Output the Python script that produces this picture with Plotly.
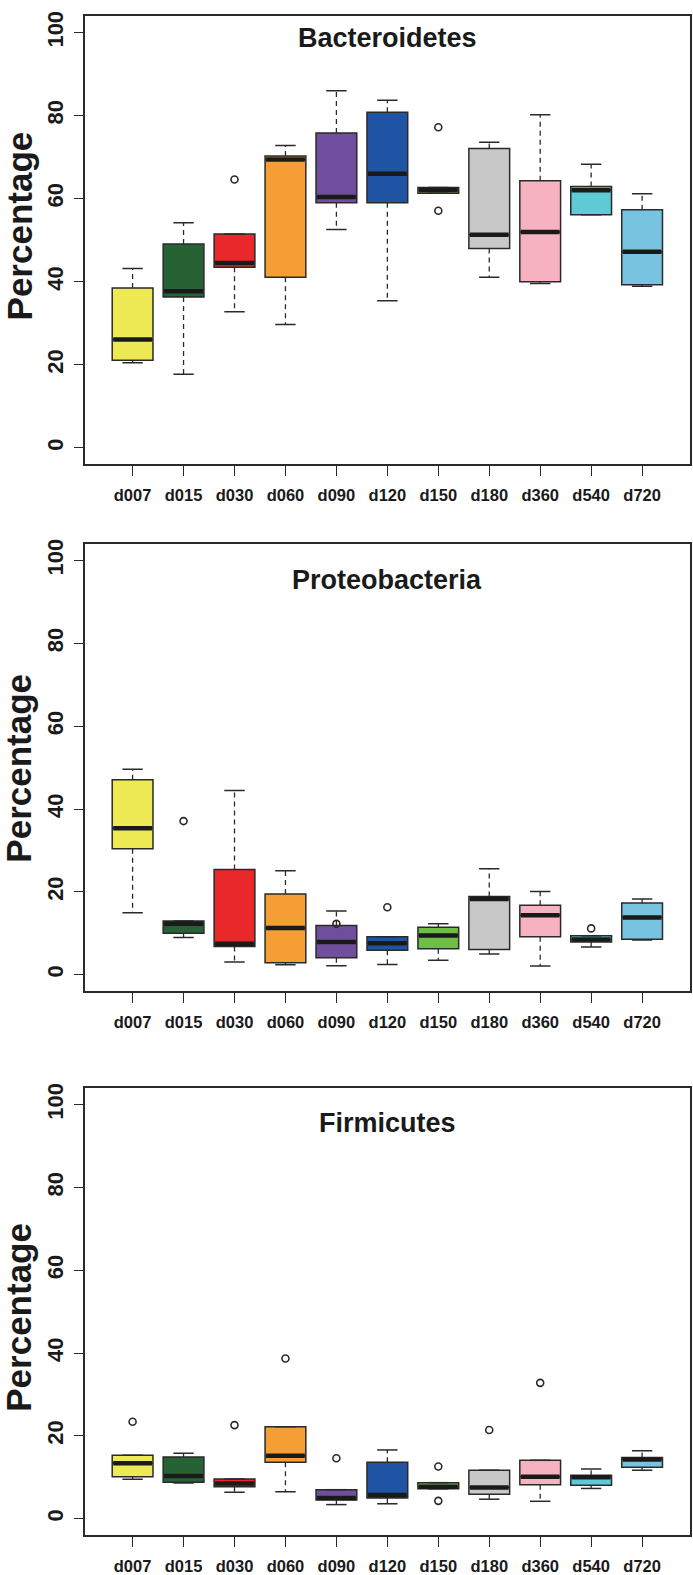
import plotly.graph_objects as go

# ---------------- data ----------------
categories = ["d007", "d015", "d030", "d060", "d090", "d120", "d150", "d180", "d360", "d540", "d720"]
box_colors = ["#EDEA55", "#266234", "#E9282A", "#F59E33", "#6F4F9E", "#1E54A3",
              "#6EBE46", "#C8C8C8", "#F6B2C1", "#5ECAD6", "#78C3E0"]
panel_titles = ["Bacteroidetes", "Proteobacteria", "Firmicutes"]
y_title = "Percentage"
y_ticks = [0, 20, 40, 60, 80, 100]

# Bacteroidetes
bact_lower = [20.5, 17.7, 32.8, 29.7, 52.6, 35.4, 61.3, 41.1, 39.6, 56.1, 38.9]
bact_q1 = [21.1, 36.3, 43.5, 41.1, 59.0, 59.0, 61.3, 48.0, 40.0, 56.1, 39.3]
bact_median = [26.1, 37.7, 44.5, 69.4, 60.4, 66.0, 62.1, 51.3, 52.0, 62.0, 47.2]
bact_q3 = [38.5, 49.1, 51.5, 70.3, 75.8, 80.8, 62.7, 72.1, 64.3, 62.9, 57.3]
bact_upper = [43.2, 54.2, 51.5, 72.8, 86.0, 83.7, 62.7, 73.6, 80.2, 68.3, 61.2]
bact_outliers = {"d030": [64.6], "d150": [77.2, 57.1]}

# Proteobacteria
prot_lower = [15.0, 9.0, 3.1, 2.4, 2.2, 2.5, 3.5, 5.0, 2.1, 6.7, 8.4]
prot_q1 = [30.4, 10.0, 6.8, 2.9, 4.1, 5.9, 6.3, 6.1, 9.2, 7.9, 8.6]
prot_median = [35.4, 12.3, 7.5, 11.3, 7.9, 7.6, 9.5, 18.3, 14.4, 8.5, 13.8]
prot_q3 = [47.1, 13.0, 25.4, 19.5, 11.9, 9.2, 11.5, 18.9, 16.8, 9.4, 17.3]
prot_upper = [49.6, 13.0, 44.5, 25.1, 15.4, 9.2, 12.3, 25.6, 20.1, 9.4, 18.3]
prot_outliers = {"d015": [37.1], "d090": [12.3], "d120": [16.3], "d540": [11.2]}

# Firmicutes
firm_lower = [9.5, 8.6, 6.4, 6.5, 3.4, 3.6, 7.2, 4.7, 4.2, 7.3, 11.7]
firm_q1 = [10.1, 8.8, 7.7, 13.6, 4.5, 5.0, 7.2, 5.9, 8.2, 8.1, 12.4]
firm_median = [13.4, 10.3, 8.5, 15.2, 5.0, 5.7, 7.7, 7.5, 10.1, 10.0, 14.3]
firm_q3 = [15.3, 14.9, 9.6, 22.2, 7.0, 13.6, 8.7, 11.7, 14.1, 10.5, 14.8]
firm_upper = [15.3, 15.8, 9.6, 22.2, 7.0, 16.6, 8.7, 11.7, 14.1, 12.0, 16.4]
firm_outliers = {"d007": [23.4], "d030": [22.6], "d060": [38.7], "d090": [14.6],
                 "d150": [12.6, 4.3], "d180": [21.4], "d360": [32.8]}

panels = [
    (bact_lower, bact_q1, bact_median, bact_q3, bact_upper, bact_outliers),
    (prot_lower, prot_q1, prot_median, prot_q3, prot_upper, prot_outliers),
    (firm_lower, firm_q1, firm_median, firm_q3, firm_upper, firm_outliers),
]

# ---------------- styling / layout ----------------
W, H = 693, 1575
DARK = "#2a2a2a"
FONT = "Liberation Sans, Arial, sans-serif"
BOXW = 0.8
STAPLE = BOXW / 2
x_dom = [84.7 / W, 690.0 / W]
frames = [(11.0, 462.7), (542.7, 993.3), (1090.7, 1541.0)]  # top, bottom px
title_y = [98.6, 95.4, 95.6]
ylab_center = [223, 769, 1322]

fig = go.Figure()
positions = list(range(1, len(categories) + 1))

for p, (lo, q1, med, q3, up, outs) in enumerate(panels):
    xa = "x" if p == 0 else f"x{p + 1}"
    ya = "y" if p == 0 else f"y{p + 1}"

    # dashed whiskers
    wx, wy = [], []
    for i, pos in enumerate(positions):
        wx += [pos, pos, None, pos, pos, None]
        wy += [q3[i], up[i], None, q1[i], lo[i], None]
    fig.add_trace(go.Scatter(x=wx, y=wy, mode="lines", xaxis=xa, yaxis=ya,
                             line=dict(color=DARK, width=1.3, dash="5px,4px"),
                             hoverinfo="skip", showlegend=False))
    # staples
    sx, sy = [], []
    for i, pos in enumerate(positions):
        for v in (up[i], lo[i]):
            sx += [pos - STAPLE / 2, pos + STAPLE / 2, None]
            sy += [v, v, None]
    fig.add_trace(go.Scatter(x=sx, y=sy, mode="lines", xaxis=xa, yaxis=ya,
                             line=dict(color=DARK, width=1.5),
                             hoverinfo="skip", showlegend=False))
    # boxes
    for i, pos in enumerate(positions):
        fig.add_trace(go.Box(x=[pos], q1=[q1[i]], median=[med[i]], q3=[q3[i]],
                             lowerfence=[q1[i]], upperfence=[q3[i]],
                             width=BOXW, whiskerwidth=0, boxpoints=False,
                             fillcolor=box_colors[i],
                             line=dict(color=DARK, width=1.5),
                             xaxis=xa, yaxis=ya, hoverinfo="skip", showlegend=False))
    # thick medians
    mx, my = [], []
    for i, pos in enumerate(positions):
        mx += [pos - BOXW / 2 + 0.02, pos + BOXW / 2 - 0.02, None]
        my += [med[i], med[i], None]
    fig.add_trace(go.Scatter(x=mx, y=my, mode="lines", xaxis=xa, yaxis=ya,
                             line=dict(color="#1a1a1a", width=4.5),
                             hoverinfo="skip", showlegend=False))
    # outliers
    ox, oy = [], []
    for i, cat in enumerate(categories):
        for v in outs.get(cat, []):
            ox.append(positions[i])
            oy.append(v)
    fig.add_trace(go.Scatter(x=ox, y=oy, mode="markers", xaxis=xa, yaxis=ya,
                             marker=dict(symbol="circle-open", size=7, color=DARK,
                                         line=dict(width=1.6, color=DARK)),
                             hoverinfo="skip", showlegend=False))

    top, bot = frames[p]
    y_dom = [1 - bot / H, 1 - top / H]
    axis_common = dict(showline=True, mirror=True, linecolor=DARK, linewidth=1.5,
                       showgrid=False, zeroline=False, ticks="outside",
                       tickcolor=DARK, tickwidth=1.3)
    fig.update_layout(**{
        ("xaxis" if p == 0 else f"xaxis{p + 1}"): dict(
            domain=x_dom, range=[0.06, 11.94], anchor=ya,
            tickmode="array", tickvals=positions, ticktext=categories,
            ticklen=10, ticklabelstandoff=5,
            tickfont=dict(family=FONT, size=16.5, color="#1a1a1a", weight="bold"),
            **axis_common),
        ("yaxis" if p == 0 else f"yaxis{p + 1}"): dict(
            domain=y_dom, range=[-4, 104], anchor=xa,
            tickmode="array", tickvals=y_ticks, ticktext=[str(t) for t in y_ticks],
            tickangle=-90, ticklen=9, ticklabelstandoff=2,
            tickfont=dict(family=FONT, size=22, color="#1a1a1a", weight="bold"),
            **axis_common),
    })

    fig.add_annotation(text=panel_titles[p], xref="paper", yref=ya,
                       x=(x_dom[0] + x_dom[1]) / 2, y=title_y[p],
                       xanchor="center", yanchor="middle", showarrow=False,
                       font=dict(family=FONT, size=27, color="#1a1a1a", weight="bold"))
    fig.add_annotation(text=y_title, xref="paper", yref="paper",
                       x=19 / W, y=1 - ylab_center[p] / H, textangle=-90,
                       xanchor="center", yanchor="middle", showarrow=False,
                       font=dict(family=FONT, size=35, color="#1a1a1a", weight="bold"))

fig.update_layout(width=W, height=H, margin=dict(l=0, r=0, t=0, b=0),
                  paper_bgcolor="white", plot_bgcolor="white",
                  boxmode="overlay", showlegend=False)

fig.write_html("out.html", config={"displayModeBar": False},
               post_script="document.body.style.margin='0px';"
                           "document.body.style.padding='0px';"
                           "document.documentElement.style.overflow='hidden';")
